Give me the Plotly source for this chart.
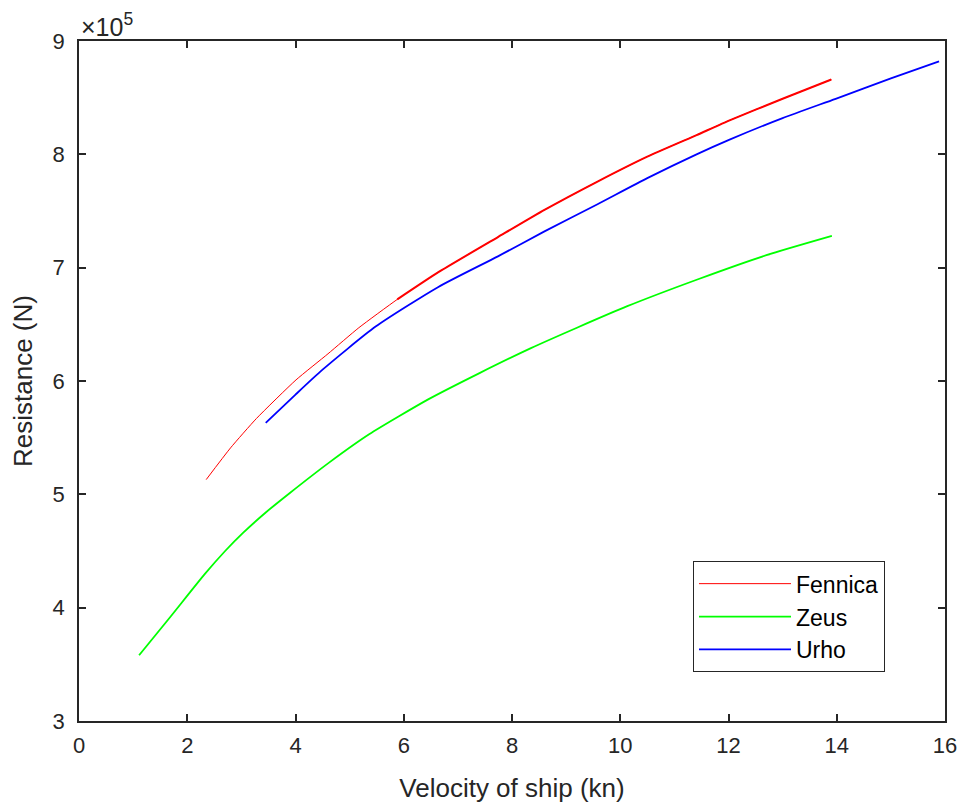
import plotly.graph_objects as go

# Data (velocity in kn, resistance in N)
fennica_v = [2.35, 2.8, 3.28, 4.01, 4.6, 5.17, 5.88, 6.64, 7.74, 8.6, 9.58, 10.5, 11.41, 12.02, 13.0, 13.9]
fennica_r = [5.13e5, 5.41e5, 5.67e5, 6.01e5, 6.24e5, 6.47e5, 6.72e5, 6.96e5, 7.27e5, 7.51e5, 7.76e5, 7.98e5, 8.17e5, 8.30e5, 8.49e5, 8.66e5]

zeus_v = [1.11, 1.69, 2.33, 2.7, 3.03, 3.45, 3.89, 4.62, 5.36, 6.46, 7.4, 8.35, 9.2, 10.13, 11.45, 12.7, 13.91]
zeus_r = [3.58e5, 3.92e5, 4.30e5, 4.50e5, 4.66e5, 4.84e5, 5.01e5, 5.28e5, 5.53e5, 5.84e5, 6.07e5, 6.29e5, 6.47e5, 6.66e5, 6.90e5, 7.11e5, 7.28e5]

urho_v = [3.45, 4.0, 4.5, 5.48, 6.64, 7.74, 8.6, 9.58, 10.5, 11.41, 12.02, 13.0, 13.98, 15.0, 15.89]
urho_r = [5.63e5, 5.88e5, 6.10e5, 6.48e5, 6.83e5, 7.10e5, 7.32e5, 7.56e5, 7.79e5, 8.00e5, 8.13e5, 8.32e5, 8.49e5, 8.67e5, 8.82e5]

y_ticks = [3e5, 4e5, 5e5, 6e5, 7e5, 8e5, 9e5]
y_labels = ["3", "4", "5", "6", "7", "8", "9"]
x_ticks = [0, 2, 4, 6, 8, 10, 12, 14, 16]

FONT = "Liberation Sans, Arial, Helvetica"
AX = "#262626"

fig = go.Figure()
fig.add_trace(go.Scatter(x=fennica_v, y=fennica_r, mode="lines", name="Fennica",
                         line=dict(color="#ff0000", width=1, shape="spline", smoothing=0.5)))
# overlapping duplicate segment (data recorded twice)
fig.add_trace(go.Scatter(x=fennica_v[6:], y=fennica_r[6:], mode="lines", showlegend=False,
                         hoverinfo="skip",
                         line=dict(color="#ff0000", width=2, shape="spline", smoothing=0.5)))
fig.add_trace(go.Scatter(x=zeus_v, y=zeus_r, mode="lines", name="Zeus",
                         line=dict(color="#00ff00", width=1.8, shape="spline", smoothing=0.6)))
fig.add_trace(go.Scatter(x=urho_v, y=urho_r, mode="lines", name="Urho",
                         line=dict(color="#0000ff", width=1.8, shape="spline", smoothing=0.6)))

axis_common = dict(showgrid=False, zeroline=False, showline=True, linecolor=AX,
                   linewidth=1.5, mirror="ticks", ticks="inside", ticklen=7,
                   tickcolor=AX, tickwidth=1.5,
                   tickfont=dict(family=FONT, size=22, color=AX))

fig.update_layout(
    width=969, height=810,
    margin=dict(l=79, r=17, t=41, b=89),
    paper_bgcolor="white", plot_bgcolor="white",
    xaxis=dict(range=[0, 16], tickvals=x_ticks, ticklabelstandoff=4,
               title=dict(text="Velocity of ship (kn)", standoff=22,
                          font=dict(family=FONT, size=26, color=AX)),
               **axis_common),
    yaxis=dict(range=[3e5, 9e5], tickvals=y_ticks, ticktext=y_labels, ticklabelstandoff=8,
               title=dict(text="Resistance (N)", standoff=12,
                          font=dict(family=FONT, size=26, color=AX)),
               **axis_common),
    legend=dict(x=0.709, y=0.235, xanchor="left", yanchor="top",
                bordercolor=AX, borderwidth=1, bgcolor="white",
                font=dict(family=FONT, size=23, color="#000000"),
                itemwidth=92),
    showlegend=True,
)
fig.add_annotation(xref="paper", yref="paper", x=0, y=1.0, xanchor="left", yanchor="bottom",
                   text="×10<sup>5</sup>", showarrow=False, yshift=-2,
                   font=dict(family=FONT, size=25, color=AX))

fig.write_html("out.html", config={"displayModeBar": False},
               post_script="document.body.style.margin='0px';")
